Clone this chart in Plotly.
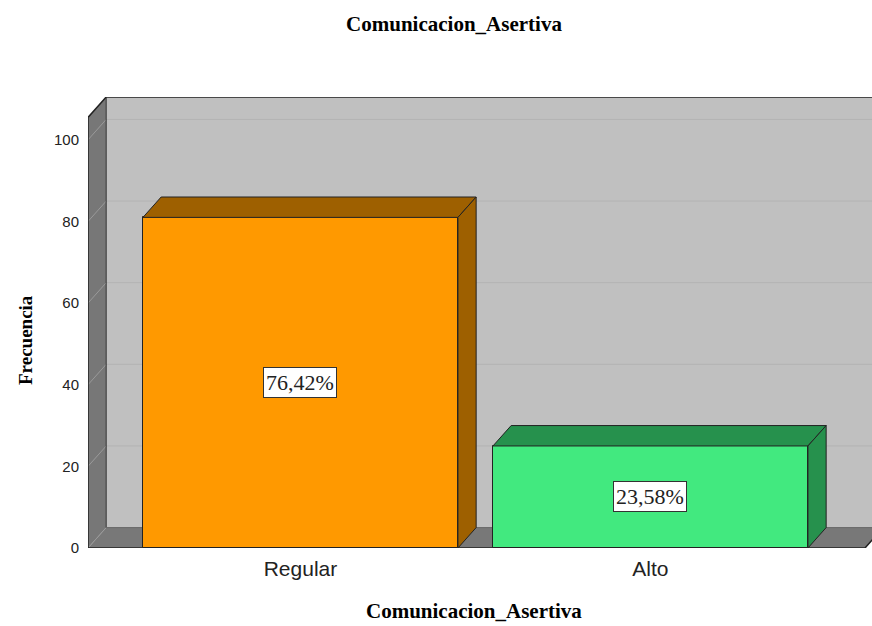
import plotly.graph_objects as go

# ---- data ----
categories = ["Regular", "Alto"]
frecuencia = [81, 25]
front_colors = ["#FF9900", "#42E97F"]
dark_colors = ["#9E6000", "#26914D"]
y_ticks = [0, 20, 40, 60, 80, 100]
title_text = "Comunicacion_Asertiva"
y_title = "Frecuencia"

total = sum(frecuencia)
pct_labels = [f"{v / total * 100:.2f}%".replace(".", ",") for v in frecuencia]

# ---- geometry (data units) ----
x_rng = [-0.607, 1.633]
y_rng = [0, 110.5]
dx, dy = 0.052, 5.0
bw = 0.9
x0 = x_rng[0]
x_end = x_rng[1] + 0.1
floor_right = 1.613

fig = go.Figure()

def shape_poly(xs, ys, fill, line=None, lw=0):
    path = "M " + " L ".join(f"{a},{b}" for a, b in zip(xs, ys)) + " Z"
    fig.add_shape(type="path", path=path, xref="x", yref="y", layer="below",
                  fillcolor=fill, line=dict(color=line or fill, width=lw))

def shape_seg(xs, ys, color, lw=1):
    path = "M " + " L ".join(f"{a},{b}" for a, b in zip(xs, ys))
    fig.add_shape(type="path", path=path, xref="x", yref="y", layer="below",
                  line=dict(color=color, width=lw))

def poly(xs, ys, fill, line="#222222", lw=1):
    fig.add_trace(go.Scatter(x=xs, y=ys, mode="lines", fill="toself",
                             fillcolor=fill, line=dict(color=line, width=lw),
                             hoverinfo="skip", showlegend=False))

# back wall, side wall, floor
shape_poly([x0 + dx, x_end, x_end, x0 + dx], [dy, dy, y_rng[1], y_rng[1]], "#C0C0C0")
shape_poly([x0, x0, x0 + dx, x0 + dx], [0, y_rng[1] - dy, y_rng[1], dy], "#777777")
shape_poly([x0, x0 + dx, floor_right + dx, floor_right], [0, dy, dy, 0], "#787878")

# gridlines
for v in y_ticks:
    if v > 0:
        shape_seg([x0 + dx, x_end], [v + dy, v + dy], "#B3B3B3")
    shape_seg([x0, x0 + dx], [v, v + dy], "#9A9A9A")

# wall outlines
shape_seg([x0, x0, x0 + dx, x_end], [0, y_rng[1] - dy, y_rng[1], y_rng[1]], "#222222", 1.5)
shape_seg([x0 + dx, x0 + dx], [dy, y_rng[1]], "#333333", 1)
shape_seg([x0, floor_right, floor_right + dx], [0, 0, dy], "#222222", 1.5)
shape_seg([x0 + dx, x_end], [dy, dy], "#666666", 1)

# bars front faces
fig.add_trace(go.Bar(x=[0, 1], y=frecuencia, width=bw,
                     marker=dict(color=front_colors, line=dict(color="#222222", width=1)),
                     hoverinfo="skip", showlegend=False))

# bars top & side faces
for i, v in enumerate(frecuencia):
    xl, xr = i - bw / 2, i + bw / 2
    poly([xl, xl + dx, xr + dx, xr, xl], [v, v + dy, v + dy, v, v], dark_colors[i])
    poly([xr, xr + dx, xr + dx, xr, xr], [v, v + dy, dy, 0, v], dark_colors[i])

# percentage labels
for i, v in enumerate(frecuencia):
    fig.add_annotation(x=i, y=v / 2, text=pct_labels[i], showarrow=False,
                       font=dict(family="Liberation Serif", size=22, color="#222222"),
                       bgcolor="white", bordercolor="#333333", borderwidth=1, borderpad=2)

# axis titles
fig.add_annotation(x=(474 - 88) / 784, y=(548 - 611) / 451, xref="paper", yref="paper",
                   xanchor="center", yanchor="middle", showarrow=False,
                   text="<b>" + title_text + "</b>",
                   font=dict(family="Liberation Serif", size=21, color="black"))
fig.add_annotation(x=(25 - 88) / 784, y=(548 - 340) / 451, xref="paper", yref="paper",
                   xanchor="center", yanchor="middle",
                   showarrow=False, textangle=-90, text="<b>" + y_title + "</b>",
                   font=dict(family="Liberation Serif", size=19, color="black"))

fig.update_layout(
    width=872, height=626,
    margin=dict(l=88, r=0, t=97, b=78),
    paper_bgcolor="white", plot_bgcolor="white",
    title=dict(text="<b>" + title_text + "</b>", x=454 / 872, xanchor="center",
               y=1 - 24 / 626, yanchor="middle",
               font=dict(family="Liberation Serif", size=21, color="black")),
    xaxis=dict(range=x_rng, tickvals=[0, 1], ticktext=categories, showgrid=False,
               zeroline=False, showline=False, ticks="", ticklabelstandoff=6,
               tickfont=dict(family="Liberation Sans", size=21, color="#222222")),
    yaxis=dict(range=y_rng, tickvals=y_ticks, showgrid=False, zeroline=False,
               showline=False, ticks="", ticklabelstandoff=8,
               tickfont=dict(family="Liberation Sans", size=15, color="#222222")),
    bargap=0,
)

fig.write_html("out.html")
